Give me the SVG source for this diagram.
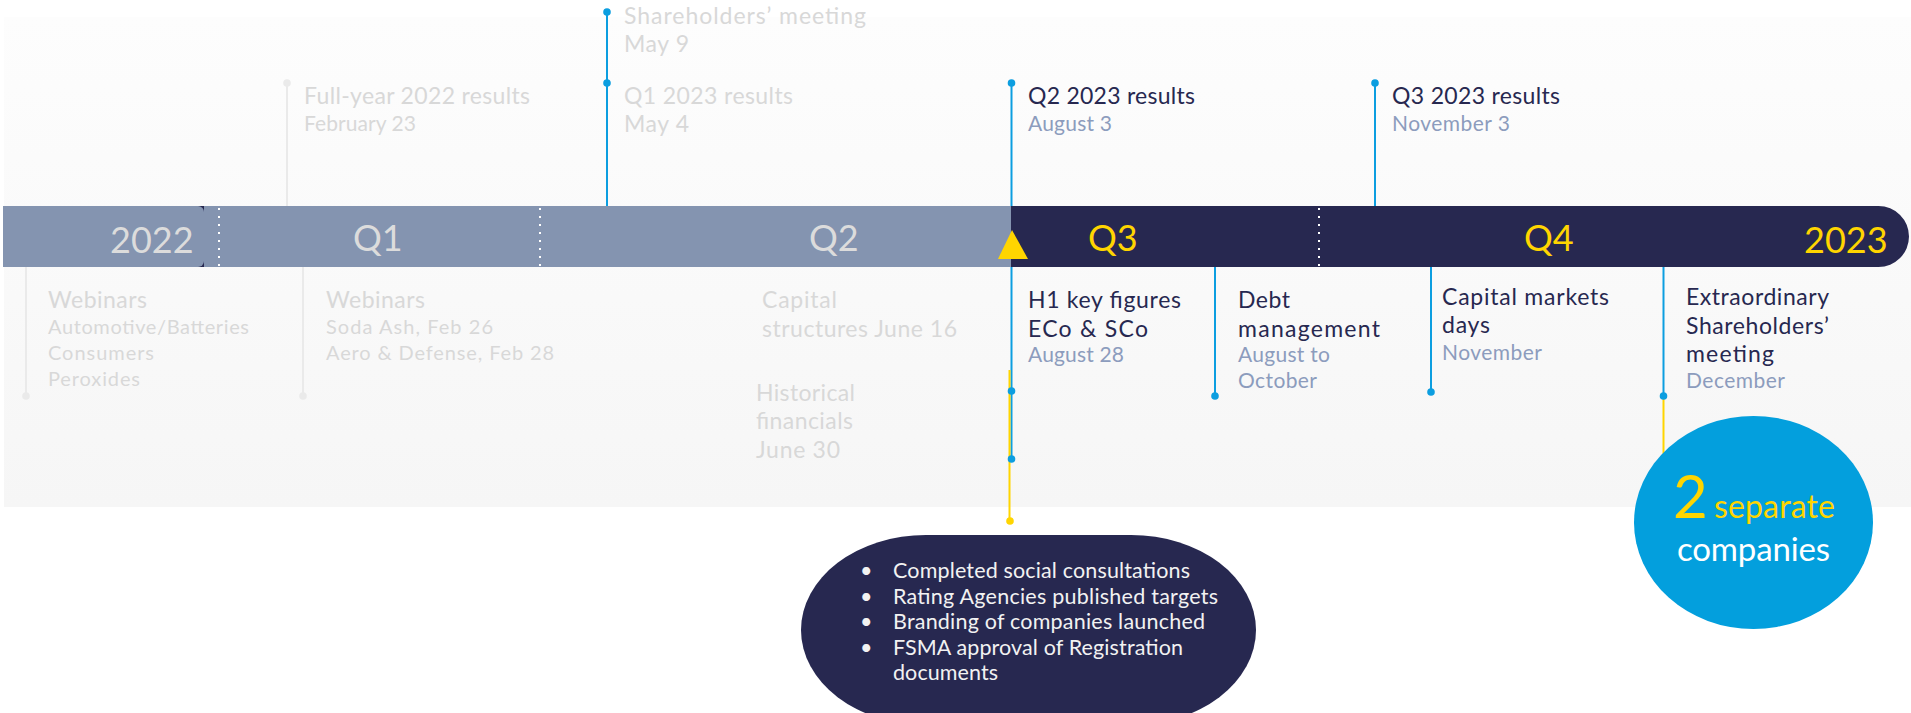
<svg xmlns="http://www.w3.org/2000/svg" width="1911" height="713" viewBox="0 0 1911 713">
<defs>
<linearGradient id="panelGrad" x1="0" y1="0" x2="0" y2="1">
<stop offset="0" stop-color="#FDFDFD"/>
<stop offset="1" stop-color="#F6F6F6"/>
</linearGradient>
<style>
text{font-family:"Lato","Liberation Sans",sans-serif;}
.t{font-size:23px;}
.d{font-size:21px;}
.s{font-size:20px;}
.faded{fill:#D8D8D8;}
.navy{fill:#272850;}
.date{fill:#8C9CBD;}
.bar{font-size:36px;}
.barGray{fill:#DCDCDC;}
.barYel{fill:#FFD500;}
.blue{stroke:#0C9EE0;stroke-width:2;fill:none;}
.grayl{stroke:#EAEAEA;stroke-width:2;fill:none;}
.yel{stroke:#FFD500;stroke-width:2;fill:none;}
.dotB{fill:#0C9EE0;}
.dotG{fill:#EAEAEA;}
.dotY{fill:#FFD500;}
.dots{stroke:#FFFFFF;stroke-width:2;stroke-dasharray:2 6;}
.bul{font-size:21.5px;fill:#F2F2F2;}
</style>
</defs>
<rect width="1911" height="713" fill="#FFFFFF"/>
<rect x="4" y="17" width="1907" height="490" fill="url(#panelGrad)"/>

<g id="timeline-bar">
<rect x="180" y="206" width="36" height="61" fill="#272850"/>
<path d="M3 206 H198 A6 6 0 0 1 204 212 V261 A6 6 0 0 1 198 267 H3 Z" fill="#8494B0"/>
<rect x="204" y="206" width="807" height="61" fill="#8494B0"/>
<path d="M1011 206 H1878.5 A30.5 30.5 0 0 1 1878.5 267 H1011 Z" fill="#272850"/>
<line class="dots" x1="219" y1="208" x2="219" y2="266"/>
<line class="dots" x1="540" y1="208" x2="540" y2="266"/>
<line class="dots" x1="1319" y1="208" x2="1319" y2="266"/>
<text class="bar barGray" x="110" y="253">2022</text>
<text class="bar barGray" x="353" y="251">Q1</text>
<text class="bar barGray" x="809" y="251">Q2</text>
<text class="bar barYel" x="1088" y="251">Q3</text>
<text class="bar barYel" x="1524" y="251">Q4</text>
<text class="bar barYel" x="1804" y="253">2023</text>
<polygon points="1012,230 998,259 1028,259" fill="#FFD500"/>
</g>

<g id="connectors">
<line class="grayl" x1="287" y1="83" x2="287" y2="206"/>
<line class="blue" x1="607" y1="12" x2="607" y2="206"/>
<line class="blue" x1="1011.5" y1="83" x2="1011.5" y2="206"/>
<line class="blue" x1="1375" y1="83" x2="1375" y2="206"/>
<line class="grayl" x1="26" y1="267" x2="26" y2="396"/>
<line class="grayl" x1="303" y1="267" x2="303" y2="396"/>
<line class="blue" x1="1011.5" y1="267" x2="1011.5" y2="459"/>
<line class="yel" x1="1009.5" y1="370" x2="1009.5" y2="521"/>
<line class="blue" x1="1215" y1="267" x2="1215" y2="396"/>
<line class="blue" x1="1431" y1="267" x2="1431" y2="392"/>
<line class="blue" x1="1663.5" y1="267" x2="1663.5" y2="396"/>
<line class="yel" x1="1663.5" y1="396" x2="1663.5" y2="459"/>
<circle class="dotG" cx="287" cy="83" r="3.8"/>
<circle class="dotB" cx="607" cy="12" r="3.8"/>
<circle class="dotB" cx="607" cy="83" r="3.8"/>
<circle class="dotB" cx="1011.5" cy="83" r="3.8"/>
<circle class="dotB" cx="1375" cy="83" r="3.8"/>
<circle class="dotG" cx="26" cy="396" r="3.8"/>
<circle class="dotG" cx="303" cy="396" r="3.8"/>
<circle class="dotB" cx="1011.5" cy="391" r="3.8"/>
<circle class="dotB" cx="1011.5" cy="459" r="3.8"/>
<circle class="dotY" cx="1010" cy="521" r="3.8"/>
<circle class="dotB" cx="1215" cy="396" r="3.8"/>
<circle class="dotB" cx="1431" cy="392" r="3.8"/>
<circle class="dotB" cx="1663.5" cy="396" r="3.8"/>
<circle class="dotY" cx="1663.5" cy="459" r="3.8"/>
</g>

<g id="ev-fullyear">
<text class="t faded" x="304" y="104" textLength="226" lengthAdjust="spacing">Full-year 2022 results</text>
<text class="d faded" x="304" y="131" textLength="112" lengthAdjust="spacing">February 23</text>
</g>
<g id="ev-shareholders">
<text class="t faded" x="624" y="24" textLength="242" lengthAdjust="spacing">Shareholders’ meeting</text>
<text class="t faded" x="624" y="52" textLength="65" lengthAdjust="spacing">May 9</text>
</g>
<g id="ev-q1">
<text class="t faded" x="624" y="104" textLength="169" lengthAdjust="spacing">Q1 2023 results</text>
<text class="t faded" x="624" y="132" textLength="65" lengthAdjust="spacing">May 4</text>
</g>
<g id="ev-q2">
<text class="t navy" x="1028" y="104" textLength="167" lengthAdjust="spacing">Q2 2023 results</text>
<text class="d date" x="1028" y="131" textLength="84" lengthAdjust="spacing">August 3</text>
</g>
<g id="ev-q3">
<text class="t navy" x="1392" y="104" textLength="168" lengthAdjust="spacing">Q3 2023 results</text>
<text class="d date" x="1392" y="131" textLength="118" lengthAdjust="spacing">November 3</text>
</g>

<g id="ev-webinars1">
<text class="t faded" x="48" y="308" textLength="99" lengthAdjust="spacing">Webinars</text>
<text class="s faded" x="48" y="334" textLength="201" lengthAdjust="spacing">Automotive/Batteries</text>
<text class="s faded" x="48" y="360" textLength="106" lengthAdjust="spacing">Consumers</text>
<text class="s faded" x="48" y="386" textLength="92" lengthAdjust="spacing">Peroxides</text>
</g>
<g id="ev-webinars2">
<text class="t faded" x="326" y="308" textLength="99" lengthAdjust="spacing">Webinars</text>
<text class="s faded" x="326" y="334" textLength="167" lengthAdjust="spacing">Soda Ash, Feb 26</text>
<text class="s faded" x="326" y="360" textLength="228" lengthAdjust="spacing">Aero &amp; Defense, Feb 28</text>
</g>
<g id="ev-capital-structures">
<text class="t faded" x="762" y="308" textLength="75" lengthAdjust="spacing">Capital</text>
<text class="t faded" x="762" y="337" textLength="195" lengthAdjust="spacing">structures June 16</text>
</g>
<g id="ev-historical">
<text class="t faded" x="756" y="401" textLength="99" lengthAdjust="spacing">Historical</text>
<text class="t faded" x="756" y="429" textLength="97" lengthAdjust="spacing">financials</text>
<text class="t faded" x="756" y="458" textLength="84" lengthAdjust="spacing">June 30</text>
</g>
<g id="ev-h1">
<text class="t navy" x="1028" y="308" textLength="153" lengthAdjust="spacing">H1 key figures</text>
<text class="t navy" x="1028" y="337" textLength="120" lengthAdjust="spacing">ECo &amp; SCo</text>
<text class="d date" x="1028" y="362" textLength="96" lengthAdjust="spacing">August 28</text>
</g>
<g id="ev-debt">
<text class="t navy" x="1238" y="308" textLength="52" lengthAdjust="spacing">Debt</text>
<text class="t navy" x="1238" y="337" textLength="142" lengthAdjust="spacing">management</text>
<text class="d date" x="1238" y="362" textLength="92" lengthAdjust="spacing">August to</text>
<text class="d date" x="1238" y="388" textLength="79" lengthAdjust="spacing">October</text>
</g>
<g id="ev-cmd">
<text class="t navy" x="1442" y="305" textLength="167" lengthAdjust="spacing">Capital markets</text>
<text class="t navy" x="1442" y="333" textLength="48" lengthAdjust="spacing">days</text>
<text class="d date" x="1442" y="360" textLength="100" lengthAdjust="spacing">November</text>
</g>
<g id="ev-egm">
<text class="t navy" x="1686" y="305" textLength="143" lengthAdjust="spacing">Extraordinary</text>
<text class="t navy" x="1686" y="334" textLength="143" lengthAdjust="spacing">Shareholders’</text>
<text class="t navy" x="1686" y="362" textLength="88" lengthAdjust="spacing">meeting</text>
<text class="d date" x="1686" y="388" textLength="99" lengthAdjust="spacing">December</text>
</g>

<g id="milestones-box">
<rect x="801" y="535" width="455" height="190" rx="125" ry="95" fill="#272850"/>
<text class="bul" x="860" y="578">•</text>
<text class="bul" x="860" y="604">•</text>
<text class="bul" x="860" y="629">•</text>
<text class="bul" x="860" y="655">•</text>
<text class="bul" x="893" y="578" textLength="297" lengthAdjust="spacing">Completed social consultations</text>
<text class="bul" x="893" y="604" textLength="325" lengthAdjust="spacing">Rating Agencies published targets</text>
<text class="bul" x="893" y="629" textLength="312" lengthAdjust="spacing">Branding of companies launched</text>
<text class="bul" x="893" y="655" textLength="290" lengthAdjust="spacing">FSMA approval of Registration</text>
<text class="bul" x="893" y="680" textLength="105" lengthAdjust="spacing">documents</text>
</g>

<g id="result-circle">
<ellipse cx="1753.5" cy="522.5" rx="119.5" ry="106.5" fill="#039FDD"/>
<text x="1673" y="518" font-size="60" fill="#FFD500">2</text>
<text x="1714" y="518" font-size="32" fill="#FFD500" textLength="121" lengthAdjust="spacing">separate</text>
<text x="1677" y="561" font-size="33" fill="#FFFFFF" textLength="153" lengthAdjust="spacing">companies</text>
</g>
</svg>
